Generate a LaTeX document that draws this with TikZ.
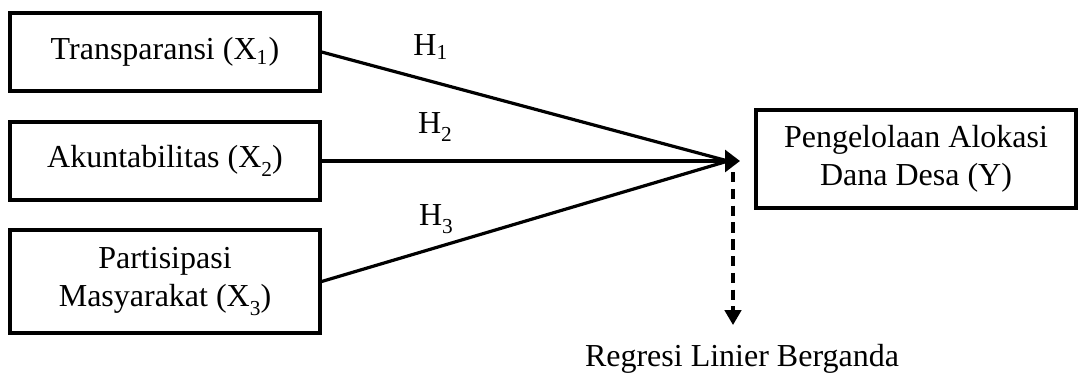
\documentclass[tikz,border=0pt]{standalone}
\usepackage{fontspec}
\setmainfont{Liberation Serif}
\usetikzlibrary{arrows.meta}
\newcommand{\lsub}[1]{\raisebox{-0.6ex}{\fontsize{8}{8}\selectfont #1}}
\begin{document}
\begin{tikzpicture}[x=0.375pt,y=-0.375pt,
  font=\fontsize{12}{14.25}\selectfont,
  box/.style={draw, line width=1.25pt, align=center, inner sep=0pt},
  conn/.style={line width=1.2pt},
  dconn/.style={line width=1.15pt, dash pattern=on 3.9pt off 2.4pt},
  lbl/.style={anchor=base, inner sep=0pt}]
\useasboundingbox (0,0) rectangle (1078,372);
\node[box, minimum width=116.25pt, minimum height=29.25pt] (b1) at (165,52) {Transparansi (X\textsubscript{1})};
\node[box, minimum width=116.25pt, minimum height=29.25pt] (b2) at (165,161) {Akuntabilitas (X\lsub{2})};
\node[box, minimum width=116.25pt, minimum height=38.6pt] (b3) at (165,281.5) {Partisipasi\\Masyarakat (X\lsub{3})};
\node[box, minimum width=120pt, minimum height=36.75pt] (y) at (916,159) {Pengelolaan Alokasi\\Dana Desa (Y)};
\coordinate (tip) at (740,161);
\coordinate (j) at (728,161);
\draw[conn] (b1.east) -- (j);
\draw[conn] (b3.east) -- (j);
\draw[conn, -{Triangle[length=5.6pt,width=8.2pt]}] (b2.east) -- (tip);
\node[lbl] (h1) at (431,55) {H\textsubscript{1}};
\node[lbl] (h2) at (435,133) {H\lsub{2}};
\node[lbl] (h3) at (436,225) {H\lsub{3}};
\coordinate (d1) at (733,172);
\coordinate (d2) at (733,325);
\draw[dconn, -{Triangle[length=5.6pt,width=6.2pt]}] (d1) -- (d2);
\node[lbl] (reg) at (742,366) {Regresi Linier Berganda};
\end{tikzpicture}
\end{document}
